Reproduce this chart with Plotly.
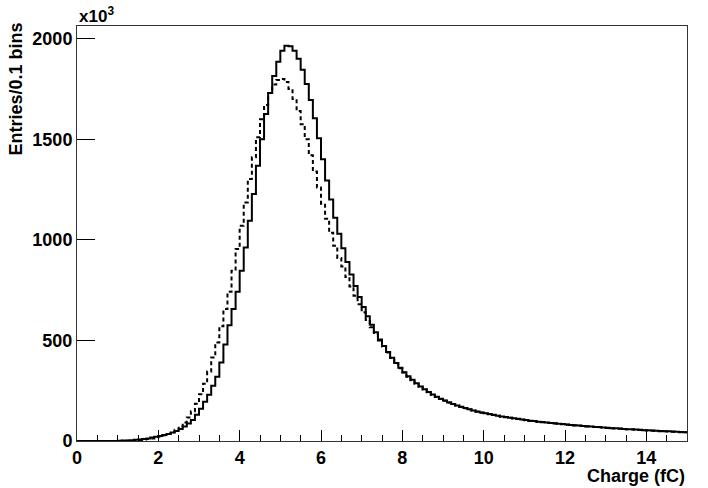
import numpy as np
import plotly.graph_objects as go

# histogram binning: 150 bins of 0.1 fC from 0 to 15
bin_width = 0.1
n_bins = 150
bin_edges = np.round(np.arange(n_bins + 1) * bin_width, 1)

# entries per bin (x10^3)
solid_counts = [
    0, 0, 0, 0, 0, 0, 0, 0, 0, 0,
    1, 2, 3, 4, 6, 8, 10, 13, 17, 21,
    25, 30, 35, 42, 50, 60, 72, 87, 104, 130,
    160, 195, 230, 275, 320, 390, 480, 575, 656, 742,
    846, 962, 1095, 1228, 1368, 1500, 1625, 1730, 1815, 1885,
    1940, 1965, 1962, 1940, 1900, 1845, 1775, 1695, 1605, 1505,
    1400, 1295, 1200, 1110, 1030, 958, 890, 828, 770, 716,
    666, 620, 578, 540, 505, 472, 442, 414, 388, 364,
    342, 322, 304, 287, 271, 257, 243, 231, 220, 210,
    201, 192, 184, 177, 170, 164, 158, 152, 147, 142,
    138, 134, 130, 126, 122, 119, 116, 113, 110, 107,
    104, 101, 99, 96, 94, 92, 90, 88, 86, 84,
    82, 80, 78, 77, 75, 73, 72, 70, 69, 67,
    66, 64, 63, 62, 60, 59, 58, 57, 56, 54,
    53, 52, 51, 50, 49, 48, 47, 46, 45, 44,
]

dashed_counts = [
    0, 0, 0, 0, 0, 0, 0, 0, 0, 0,
    0, 1, 1, 2, 3, 5, 7, 10, 13, 17,
    22, 28, 35, 44, 56, 72, 92, 117, 148, 185,
    232, 285, 345, 415, 490, 570, 656, 742, 846, 954,
    1070, 1186, 1302, 1410, 1510, 1600, 1670, 1730, 1772, 1795,
    1800, 1785, 1750, 1700, 1640, 1575, 1500, 1420, 1340, 1260,
    1180, 1105, 1035, 970, 910, 868, 815, 768, 722, 680,
    640, 602, 566, 532, 500, 470, 440, 412, 386, 362,
    340, 320, 302, 285, 270, 256, 242, 230, 219, 209,
    200, 191, 183, 176, 169, 163, 157, 151, 146, 141,
    137, 133, 129, 125, 121, 118, 115, 112, 109, 106,
    103, 100, 98, 95, 93, 91, 89, 87, 85, 83,
    81, 79, 77, 76, 74, 72, 71, 69, 68, 66,
    65, 63, 62, 61, 59, 58, 57, 56, 55, 53,
    52, 51, 50, 49, 48, 47, 46, 45, 44, 43,
]

font_main = "Liberation Sans, Arial, Helvetica, sans-serif"

fig = go.Figure()

# step histograms: value held over each bin, closed at the last edge
fig.add_trace(go.Scatter(
    x=bin_edges,
    y=solid_counts + [solid_counts[-1]],
    mode="lines",
    line=dict(color="black", width=2, shape="hv"),
    showlegend=False,
))
fig.add_trace(go.Scatter(
    x=bin_edges,
    y=dashed_counts + [dashed_counts[-1]],
    mode="lines",
    line=dict(color="black", width=2, shape="hv", dash="4px,3px"),
    showlegend=False,
))

fig.update_layout(
    width=708,
    height=488,
    margin=dict(l=77, r=21, t=26, b=47),
    paper_bgcolor="white",
    plot_bgcolor="white",
    font=dict(family=font_main, size=18, color="black"),
    xaxis=dict(
        range=[0, 15],
        dtick=2,
        tick0=0,
        ticks="inside",
        ticklen=11,
        tickwidth=1,
        tickcolor="black",
        showgrid=False,
        zeroline=False,
        showline=True,
        linecolor="#333333",
        linewidth=1,
        mirror=True,
        tickfont=dict(family=font_main, size=18, color="black", weight="bold"),
        minor=dict(dtick=0.5, ticks="inside", ticklen=6, tickcolor="black", showgrid=False),
    ),
    yaxis=dict(
        range=[0, 2063],
        dtick=500,
        tick0=0,
        ticks="inside",
        ticklen=18,
        tickwidth=1,
        tickcolor="black",
        showgrid=False,
        zeroline=False,
        showline=True,
        linecolor="#333333",
        linewidth=1,
        mirror=True,
        tickfont=dict(family=font_main, size=18, color="black", weight="bold"),
    ),
)

# ROOT-style axis titles pinned to the axis ends
fig.add_annotation(
    text="Charge (fC)", xref="paper", yref="paper", x=1, y=0,
    xanchor="right", yanchor="top", yshift=-23, showarrow=False,
    font=dict(family=font_main, size=18, color="black", weight="bold"),
)
fig.add_annotation(
    text="Entries/0.1 bins", xref="paper", yref="paper", x=0, y=1,
    xanchor="left", yanchor="top", xshift=-74, yshift=5, textangle=-90, showarrow=False,
    font=dict(family=font_main, size=18, color="black", weight="bold"),
)
fig.add_annotation(
    text="x10<sup>3</sup>", xref="paper", yref="paper", x=0, y=1,
    xanchor="left", yanchor="bottom", xshift=0, yshift=-2, showarrow=False,
    font=dict(family=font_main, size=17, color="black", weight="bold"),
)

# drop the default page margin so the figure sits at the window origin
fig.write_html(
    "out.html",
    config={"displayModeBar": False},
    post_script="document.body.style.margin='0';",
)
